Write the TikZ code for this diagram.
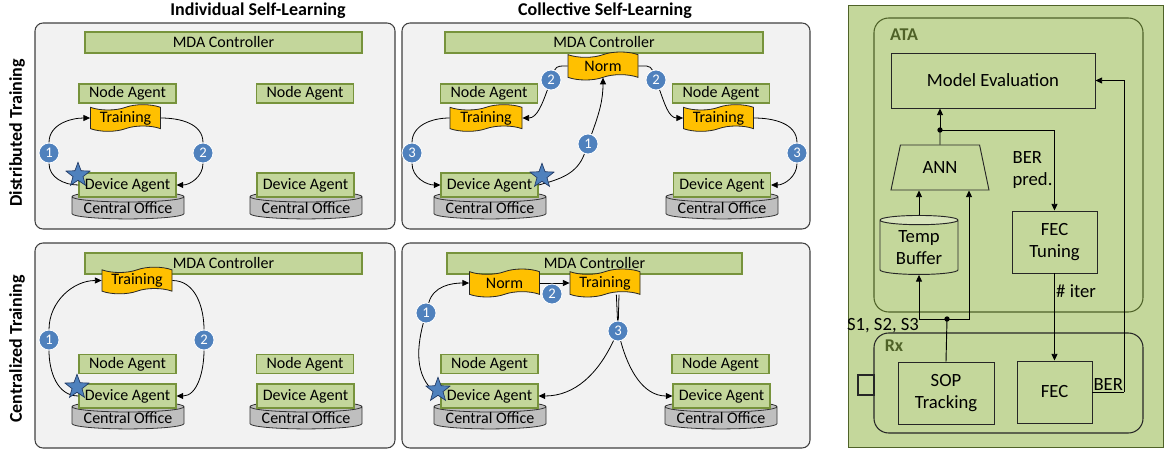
\documentclass[tikz,border=0pt]{standalone}
\usepackage{fontspec}
\setmainfont{Carlito}
\usetikzlibrary{shapes.geometric, shapes.symbols, arrows.meta, positioning}
\definecolor{panelgray}{RGB}{242,242,242}
\definecolor{panelrim}{RGB}{64,64,64}
\definecolor{agentgreen}{RGB}{195,214,155}
\definecolor{agentrim}{RGB}{119,147,60}
\definecolor{taskyellow}{RGB}{255,192,0}
\definecolor{officegray}{RGB}{191,191,191}
\definecolor{stepblue}{RGB}{79,129,189}
\definecolor{stardark}{RGB}{31,56,100}
\definecolor{atagreen}{RGB}{196,215,155}
\definecolor{atarim}{RGB}{79,98,40}
\definecolor{buftop}{RGB}{216,228,188}
\pgfdeclarelayer{front}
\pgfsetlayers{main,front}

\begin{document}
\begin{tikzpicture}[
    x=0.75pt, y=0.75pt,
    panel/.style={rectangle, draw=panelrim, fill=panelgray, line width=0.8pt, rounded corners=6pt, inner sep=0pt},
    agent/.style={rectangle, draw=agentrim, fill=agentgreen, line width=0.8pt, minimum width=72.75pt, minimum height=14.25pt, inner sep=0pt, font=\fontsize{12}{13}\selectfont},
    device/.style={agent, minimum height=18pt},
    mda/.style={agent, minimum height=15.75pt},
    task/.style={tape, tape bend top=in and out, tape bend bottom=in and out, tape bend height=4pt, draw=black!85, fill=taskyellow, line width=0.6pt, minimum width=52.5pt, minimum height=20pt, inner sep=0pt, font=\fontsize{12}{13}\selectfont},
    office/.style={cylinder, shape border rotate=90, aspect=0.12, draw=black!80, fill=officegray, line width=0.6pt, minimum width=84pt, minimum height=16pt, inner sep=0pt, font=\fontsize{12}{13}\selectfont},
    badge/.style={circle, fill=stepblue, draw=white, line width=0.6pt, text=white, minimum size=15pt, inner sep=0pt, font=\fontsize{11}{11}\selectfont},
    origin/.style={star, star points=5, star point ratio=2.4, minimum size=19pt, inner sep=0pt, fill=stepblue, draw=stardark, line width=0.5pt},
    arr/.style={-{Triangle[length=5pt,width=4.5pt]}, line width=0.6pt},
    title/.style={font=\bfseries\fontsize{13.5}{15}\selectfont},
    unit/.style={rectangle, draw=black!85, fill=atagreen, line width=0.7pt, inner sep=1pt, align=center, font=\fontsize{14}{16.5}\selectfont},
    tag/.style={font=\bfseries\fontsize{13.5}{14}\selectfont, text=atarim},
    note/.style={font=\fontsize{14}{16.5}\selectfont, align=left, inner sep=1pt}
]
    \useasboundingbox (0,0) rectangle (1165,-450);

    % column and row titles
    \node (indiv) [title] at (258,-11) {Individual Self-Learning};
    \node (coll) [title] at (605,-11) {Collective Self-Learning};
    \node (distr) [title, rotate=90] at (17,-133) {Distributed Training};
    \node (centr) [title, rotate=90] at (17,-349) {Centralized Training};

    % panels
    \node (p1) [panel, minimum width=270pt, minimum height=154.5pt] at (215,-126) {};
    \node (p2) [panel, minimum width=306pt, minimum height=154.5pt] at (606,-126) {};
    \node (p3) [panel, minimum width=270pt, minimum height=153.75pt] at (215,-345.5) {};
    \node (p4) [panel, minimum width=306pt, minimum height=153.75pt] at (606,-345.5) {};

    % distributed, individual
    \node (mda1) [mda, minimum width=207.75pt] at (223.5,-42.5) {MDA Controller};
    \node (na1a) [agent] at (127.5,-93.5) {Node Agent};
    \node (na1b) [agent] at (305,-93.5) {Node Agent};
    \node (tr1) [task] at (125.5,-118) {Training};
    \node (co1a) [office] at (128,-208) {\raisebox{-2pt}{Central Office}};
    \node (co1b) [office] at (306,-208) {\raisebox{-2pt}{Central Office}};
    \node (dev1a) [device] at (127.5,-185) {Device Agent};
    \node (dev1b) [device] at (305.5,-185) {Device Agent};
    \begin{pgfonlayer}{front}
    \node (s1a) [badge] at (49,-153) {1};
    \node (s1b) [badge] at (203,-153) {2};
    \node (o1) [origin] at (78,-175) {};
    \end{pgfonlayer}
    \draw[arr] (dev1a.west) to[out=180,in=270] (s1a) to[out=90,in=180] (tr1.west);
    \draw[arr] (tr1.east) to[out=0,in=90] (s1b) to[out=270,in=0] (dev1a.east);

    % distributed, collective
    \node (mda2) [mda, minimum width=238.5pt] at (604,-42.5) {MDA Controller};
    \node (norm2) [task, minimum height=21pt] at (603,-66) {Norm};
    \node (na2a) [agent] at (489,-93.5) {Node Agent};
    \node (na2b) [agent] at (721,-93.5) {Node Agent};
    \node (tr2a) [task, minimum width=54pt] at (486,-118) {Training};
    \node (tr2b) [task] at (718.5,-118) {Training};
    \node (co2a) [office] at (490,-208) {\raisebox{-2pt}{Central Office}};
    \node (co2b) [office] at (722,-208) {\raisebox{-2pt}{Central Office}};
    \node (dev2a) [device] at (489.5,-185) {Device Agent};
    \node (dev2b) [device] at (722,-185) {Device Agent};
    \begin{pgfonlayer}{front}
    \node (s2a) [badge] at (588,-144) {1};
    \node (s2b) [badge] at (551,-80) {2};
    \node (s2c) [badge] at (656,-80) {2};
    \node (s2d) [badge] at (412,-153) {3};
    \node (s2e) [badge] at (797,-153) {3};
    \node (o2) [origin] at (542,-176) {};
    \end{pgfonlayer}
    \draw[arr] (dev2a.east) to[out=15,in=250] (s2a) to[out=70,in=270] (norm2.south);
    \draw[arr] (norm2.west) to[out=180,in=70] (s2b) to[out=250,in=0] (tr2a.east);
    \draw[arr] (norm2.east) to[out=0,in=110] (s2c) to[out=290,in=180] (tr2b.west);
    \draw[arr] (tr2a.west) to[out=180,in=90] (s2d) to[out=270,in=180] (dev2a.west);
    \draw[arr] (tr2b.east) to[out=0,in=90] (s2e) to[out=270,in=0] (dev2b.east);

    % centralized, individual
    \node (mda3) [mda, minimum width=207.75pt] at (223.5,-263.5) {MDA Controller};
    \node (tr3) [task] at (137,-280.5) {Training};
    \node (na3a) [agent] at (127.5,-364) {Node Agent};
    \node (na3b) [agent] at (305,-364) {Node Agent};
    \node (co3a) [office] at (128,-418) {\raisebox{-2pt}{Central Office}};
    \node (co3b) [office] at (306,-418) {\raisebox{-2pt}{Central Office}};
    \node (dev3a) [device] at (127.5,-396) {Device Agent};
    \node (dev3b) [device] at (305.5,-396) {Device Agent};
    \begin{pgfonlayer}{front}
    \node (s3a) [badge] at (49,-340) {1};
    \node (s3b) [badge] at (204,-340) {2};
    \node (o3) [origin] at (77,-387) {};
    \end{pgfonlayer}
    \draw[arr] (dev3a.west) to[out=180,in=270] (s3a) to[out=90,in=180] (tr3.west);
    \draw[arr] (tr3.east) to[out=0,in=90] (s3b) to[out=270,in=0] (dev3a.east);

    % centralized, collective
    \node (mda4) [mda, minimum width=221.25pt] at (594.5,-263.5) {MDA Controller};
    \node (norm4) [task, minimum height=21pt] at (504.5,-283) {Norm};
    \node (tr4) [task, minimum height=21pt] at (605,-283) {Training};
    \node (na4a) [agent] at (489.5,-364) {Node Agent};
    \node (na4b) [agent] at (720.5,-364) {Node Agent};
    \node (co4a) [office] at (490,-418) {\raisebox{-2pt}{Central Office}};
    \node (co4b) [office] at (721,-418) {\raisebox{-2pt}{Central Office}};
    \node (dev4a) [device] at (489.5,-396) {Device Agent};
    \node (dev4b) [device] at (721.5,-396) {Device Agent};
    \begin{pgfonlayer}{front}
    \node (s4a) [badge] at (426,-313) {1};
    \node (s4b) [badge] at (552,-294) {2};
    \node (s4c) [badge] at (618,-331) {3};
    \node (o4) [origin] at (438,-390) {};
    \end{pgfonlayer}
    \draw[arr] (dev4a.west) to[out=150,in=255] (s4a) to[out=75,in=180] (norm4.west);
    \draw[arr] (norm4.east) -- (tr4.west);
    \draw[arr] ([xshift=8.5pt]tr4.south) -- (s4c) to[out=245,in=0] (dev4a.east);
    \draw[arr] ([xshift=10.5pt]tr4.south) -- (s4c) to[out=285,in=180] (dev4b.west);

    % ATA / Rx block
    \node (bg) [rectangle, draw=atarim, fill=atagreen, line width=0.7pt, minimum width=236.25pt, minimum height=331.5pt] at (1005.5,-226) {};
    \node (ata) [rectangle, draw=atarim, line width=0.8pt, rounded corners=11pt, minimum width=201.75pt, minimum height=220.5pt] at (1008.5,-165) {};
    \node (rx) [rectangle, draw=black!85, line width=0.8pt, rounded corners=11pt, minimum width=201.75pt, minimum height=75pt] at (1008.5,-383) {};
    \node (atalbl) [tag] at (904,-35) {ATA};
    \node (rxlbl) [tag] at (894,-346) {Rx};
    \node (port) [rectangle, draw=black!85, line width=0.8pt, minimum width=12pt, minimum height=15pt] at (866,-385) {};

    \node (eval) [unit, minimum width=153pt, minimum height=41.25pt] at (993,-80.5) {Model Evaluation};
    \node (ann) [trapezium, trapezium stretches=true, trapezium left angle=76, trapezium right angle=76, draw=black!85, fill=atagreen, line width=0.7pt, minimum width=73.5pt, minimum height=33.75pt, font=\fontsize{14}{16.5}\selectfont] at (940,-167.5) {ANN};
    \node (tune) [unit, minimum width=63.75pt, minimum height=46.5pt] at (1054.5,-242) {FEC\\Tuning};
    \node (buf) [cylinder, shape border rotate=90, aspect=0.2, draw=black!85, line width=0.7pt, cylinder uses custom fill, cylinder body fill=atagreen, cylinder end fill=buftop, minimum width=58.5pt, minimum height=44.25pt, inner sep=0pt, align=center, font=\fontsize{14}{16.5}\selectfont] at (919,-247.5) {Temp\\Buffer};
    \node (sop) [unit, minimum width=72pt, minimum height=46.5pt] at (946,-393) {SOP\\Tracking};
    \node (fec) [unit, minimum width=56.25pt, minimum height=46.5pt] at (1054.5,-392) {FEC};

    \coordinate (fork) at (940,-130);
    \coordinate (tap) at (947,-319);
    \coordinate (berup) at (1124,-392);
    \draw[line width=0.7pt] (ann.north) -- (fork);
    \draw[arr] (fork) -- (fork |- eval.south);
    \draw[arr] (fork) -| (tune.north);
    \fill (fork) circle (2pt);
    \node (berpred) [note, anchor=north west] at (1011,-150) {BER\\pred.};
    \draw[arr] (buf.north) -- (buf.north |- ann.south);
    \draw[line width=0.7pt] (sop.north) -- (tap);
    \draw[arr] (tap) -| (buf.south);
    \draw[arr] (tap) -| ([xshift=21.75pt]ann.south);
    \fill (tap) circle (2pt);
    \node (sigs) [note] at (883,-326) {S1, S2, S3};
    \draw[arr] (tune.south) -- node[note, pos=0.2, right] {\# iter} (fec.north);
    \draw[line width=0.7pt] (fec.east) -- node[note, above] {BER} (berup);
    \draw[arr] (berup) |- (eval.east);
\end{tikzpicture}
\end{document}
